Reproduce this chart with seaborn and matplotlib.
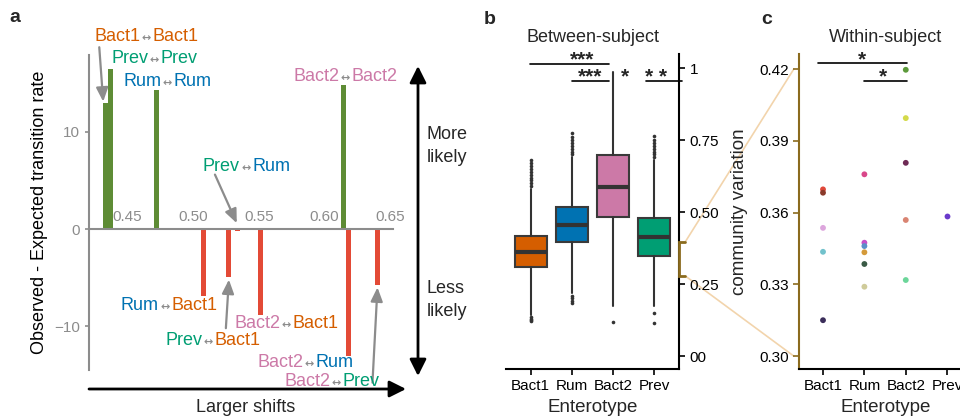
import matplotlib
matplotlib.use("Agg")
import matplotlib.pyplot as plt
import matplotlib.transforms as mtransforms
from matplotlib.offsetbox import TextArea, HPacker, AnnotationBbox
from matplotlib.patches import ConnectionPatch, FancyArrowPatch
import numpy as np
import pandas as pd
import seaborn as sns

# ---------------- data ----------------
# panel a: observed - expected transition rate vs. size of shift
pair_from = ["Bact1", "Prev", "Rum", "Rum", "Prev", "Prev", "Bact2", "Bact2", "Bact2", "Bact2"]
pair_to = ["Bact1", "Prev", "Rum", "Bact1", "Bact1", "Rum", "Bact1", "Bact2", "Rum", "Prev"]
shift = [0.4337, 0.4375, 0.4720, 0.5080, 0.5270, 0.5340, 0.5515, 0.6142, 0.6180, 0.6405]
obs_minus_exp = [13.0, 16.5, 14.3, -6.9, -4.9, -0.2, -8.8, 14.8, -13.1, -5.8]
a_yticks = [-10, 0, 10]
a_xticks = [0.45, 0.50, 0.55, 0.60, 0.65]

# panel b: between-subject community variation (box summaries)
enterotypes = ["Bact1", "Rum", "Bact2", "Prev"]
box_q1 = [0.308, 0.395, 0.484, 0.347]
box_med = [0.360, 0.455, 0.588, 0.412]
box_q3 = [0.417, 0.516, 0.698, 0.480]
box_whislo = [0.142, 0.218, 0.174, 0.175]
box_whishi = [0.580, 0.690, 0.987, 0.680]
box_fliers = [
    [0.59, 0.60, 0.61, 0.62, 0.63, 0.64, 0.65, 0.66, 0.67, 0.68, 0.135, 0.13, 0.125, 0.12],
    [0.70, 0.71, 0.72, 0.73, 0.74, 0.75, 0.76, 0.775, 0.21, 0.20, 0.19, 0.184],
    [0.119],
    [0.69, 0.70, 0.71, 0.72, 0.73, 0.74, 0.75, 0.764, 0.149, 0.115],
]
b_yticks = [0, 0.25, 0.5, 0.75, 1]
b_yticklabels = ["00", "0.25", "0.50", "0.75", "1"]

# panel c: within-subject community variation
within_group = ["Bact1"] * 5 + ["Rum"] * 6 + ["Bact2"] * 5 + ["Prev"]
within_value = [0.3697, 0.3683, 0.3536, 0.3436, 0.3150,
                0.3760, 0.3474, 0.3460, 0.3434, 0.3385, 0.3290,
                0.4197, 0.3995, 0.3808, 0.3569, 0.3318,
                0.3585]
within_color = ["#E0483A", "#8B3A2A", "#DDA6DD", "#72C2CC", "#3B2D5A",
                "#D9478A", "#C650C8", "#5B8FC8", "#D49A3A", "#3A5A45", "#CFCB9A",
                "#5C9A3A", "#D4DA4A", "#6E2A55", "#D98472", "#6CD69A",
                "#6A3ACB"]
c_yticks = [0.30, 0.33, 0.36, 0.39, 0.42]

# ---------------- style ----------------
ent_color = {"Bact1": "#D55E00", "Rum": "#0072B2", "Bact2": "#CC79A7", "Prev": "#009E73"}
green = "#5E8C35"
red = "#E34A36"
grey = "#8C8C8C"
brown = "#8B6B1E"
tan = "#F2D4AC"

sns.set_theme(style="ticks")
plt.rcParams["font.family"] = ["Liberation Sans", "DejaVu Sans"]
plt.rcParams["axes.unicode_minus"] = True

fig = plt.figure(figsize=(9.6, 4.2), dpi=100)
W, H = 960, 420


def px_axes(left, top, right, bottom):
    return [left / W, 1 - bottom / H, (right - left) / W, (bottom - top) / H]


def fpx(x, y):
    return (x / W, 1 - y / H)


axa = fig.add_axes(px_axes(89, 55, 393, 370))
axb = fig.add_axes(px_axes(506, 54, 679, 369))
axc = fig.add_axes(px_axes(799, 54, 972, 369))

# ---------------- panel a ----------------
df_a = pd.DataFrame({"shift": shift, "diff": obs_minus_exp})
df_a["sign"] = np.where(df_a["diff"] > 0, "more", "less")
sns.barplot(data=df_a, x="shift", y="diff", hue="sign",
            palette={"more": green, "less": red}, native_scale=True,
            width=1.0, dodge=False, errorbar=None, legend=False,
            saturation=1, linewidth=0, ax=axa)
axa.set_xlim(0.421, 0.652)
axa.set_ylim(-14.5, 17.9)
for s in ["top", "right"]:
    axa.spines[s].set_visible(False)
axa.spines["bottom"].set_position(("data", 0))
for s in ["left", "bottom"]:
    axa.spines[s].set_color(grey)
    axa.spines[s].set_linewidth(1.5)
axa.set_xticks(a_xticks)
axa.set_xticklabels([f"{t:.2f}" for t in a_xticks])
axa.set_yticks(a_yticks)
axa.tick_params(axis="x", length=0, pad=-14, labelsize=11, colors=grey)
axa.tick_params(axis="y", length=3, width=1.2, labelsize=11, colors=grey)
axa.set_xlabel("")
axa.set_ylabel("Observed - Expected transition rate", fontsize=13, color="black")
axa.yaxis.set_label_coords(-0.135, 0.5)

# pair labels (x, y in data coords of panel a)
label_pos = [(0.4644, 19.8), (0.4705, 17.5), (0.4807, 15.2), (0.4818, -7.9),
             (0.5152, -11.5), (0.5407, 6.4), (0.5710, -9.7), (0.6159, 15.7),
             (0.5852, -13.7), (0.6057, -15.7)]
for a, b, (lx, ly) in zip(pair_from, pair_to, label_pos):
    parts = [TextArea(a, textprops=dict(color=ent_color[a], fontsize=13)),
             TextArea("\u2194", textprops=dict(color=grey, fontsize=8, family="DejaVu Sans",
                                                fontweight="bold")),
             TextArea(b, textprops=dict(color=ent_color[b], fontsize=13))]
    pack = HPacker(children=parts, align="baseline", pad=0, sep=1)
    ab = AnnotationBbox(pack, (lx, ly), xycoords="data", frameon=False,
                        box_alignment=(0.5, 0.5), annotation_clip=False, pad=0)
    ab.set_zorder(5)
    axa.add_artist(ab)

arrow_kw = dict(arrowstyle="-|>,head_length=0.7,head_width=0.3", color=grey,
                lw=1.6, shrinkA=0, shrinkB=0)
for src, tip in [((0.4288, 18.7), (0.4318, 13.1)),
                 ((0.5167, 5.6), (0.5333, 0.6)),
                 ((0.5250, -10.2), (0.5273, -5.2)),
                 ((0.6364, -15.8), (0.6402, -6.0))]:
    axa.annotate("", xy=tip, xytext=src, arrowprops=arrow_kw, annotation_clip=False)

# direction arrows and notes
fig.add_artist(FancyArrowPatch(fpx(89, 389), fpx(406, 389), transform=fig.transFigure,
                               arrowstyle="-|>,head_length=10,head_width=5",
                               color="black", lw=2, shrinkA=0, shrinkB=0))
fig.add_artist(FancyArrowPatch(fpx(418, 376), fpx(418, 66), transform=fig.transFigure,
                               arrowstyle="<|-|>,head_length=10,head_width=5",
                               color="black", lw=2, shrinkA=0, shrinkB=0))
fig.text(*fpx(246, 408), "Larger shifts", ha="center", va="center", fontsize=13)
fig.text(*fpx(427, 146), "More\nlikely", ha="left", va="center", fontsize=13, linespacing=1.45)
fig.text(*fpx(427, 300), "Less\nlikely", ha="left", va="center", fontsize=13, linespacing=1.45)

# ---------------- panel b ----------------
stats = []
for i, name in enumerate(enterotypes):
    stats.append(dict(label=name, q1=box_q1[i], med=box_med[i], q3=box_q3[i],
                      whislo=box_whislo[i], whishi=box_whishi[i], fliers=box_fliers[i]))
bp = axb.bxp(stats, positions=range(len(enterotypes)), widths=0.77, patch_artist=True,
             showcaps=False,
             boxprops=dict(edgecolor="#3a3a3a", linewidth=1.5),
             medianprops=dict(color="#333333", linewidth=3),
             whiskerprops=dict(color="#333333", linewidth=1.5),
             flierprops=dict(marker="o", markersize=2.6, markerfacecolor="#333333",
                             markeredgecolor="none"))
for patch, name in zip(bp["boxes"], enterotypes):
    patch.set_facecolor(ent_color[name])
axb.set_xlim(-0.6, 3.6)
axb.set_ylim(-0.045, 1.049)
axb.set_xticks(range(len(enterotypes)))
axb.set_xticklabels(enterotypes)
axb.yaxis.tick_right()
axb.set_yticks(b_yticks)
axb.set_yticklabels(b_yticklabels)
for s in ["top", "left"]:
    axb.spines[s].set_visible(False)
for s in ["right", "bottom"]:
    axb.spines[s].set_color("black")
    axb.spines[s].set_linewidth(1.5)
axb.tick_params(axis="both", length=4, width=1.2, color="black", labelsize=11, labelcolor="black")
axb.set_xlabel("Enterotype", fontsize=13.5)
axb.set_title("Between-subject", fontsize=13, pad=9)

star_kw = dict(ha="center", va="bottom", fontsize=15, fontweight="bold")
b_px = 1 / 288  # one pixel in panel b data units
for x0, x1, yl in [(-0.02, 1.89, 1.016), (1.0, 1.89, 0.956), (2.81, 3.67, 0.956)]:
    axb.plot([x0, x1], [yl, yl], color="black", lw=1.2, clip_on=False)
for txt, xt, yl in [("***", 1.24, 1.016), ("***", 1.44, 0.956), ("*", 2.29, 0.956), ("* *", 3.05, 0.956)]:
    axb.text(xt, yl - 6 * b_px, txt, **star_kw)

# zoom bracket on right spine
brk = mtransforms.blended_transform_factory(axb.transAxes, axb.transData)
axb.plot([1.035, 1.0, 1.0, 1.035], [0.397, 0.397, 0.278, 0.278], color=brown,
         lw=2, transform=brk, clip_on=False, zorder=6, solid_joinstyle="miter")

# ---------------- panel c ----------------
sns.stripplot(x=within_group, y=within_value, hue=[str(i) for i in range(len(within_value))],
              palette=within_color, order=enterotypes, jitter=False, size=4.2,
              linewidth=0, legend=False, ax=axc)
axc.set_xlim(-0.58, 3.6)
axc.set_ylim(0.2946, 0.4263)
axc.set_yticks(c_yticks)
axc.set_yticklabels([f"{t:.2f}" for t in c_yticks])
for s in ["top", "right"]:
    axc.spines[s].set_visible(False)
axc.spines["left"].set_color(brown)
axc.spines["left"].set_linewidth(1.5)
axc.spines["bottom"].set_color("black")
axc.spines["bottom"].set_linewidth(1.5)
axc.tick_params(axis="y", length=4, width=1.2, color=brown, labelsize=11, labelcolor="black")
axc.tick_params(axis="x", length=4, width=1.2, color="black", labelsize=11, labelcolor="black")
axc.set_xlabel("Enterotype", fontsize=13.5)
axc.set_ylabel("community variation", fontsize=13.5)
axc.yaxis.set_label_coords(-0.295, 0.5)
axc.set_title("Within-subject", fontsize=13, pad=9)

c_px = 1 / 2392  # one pixel in panel c data units
for x0, x1, yl in [(-0.11, 2.03, 0.4224), (0.98, 2.03, 0.4151)]:
    axc.plot([x0, x1], [yl, yl], color="black", lw=1.2, clip_on=False)
for xt, yl in [(0.95, 0.4224), (1.46, 0.4151)]:
    axc.text(xt, yl - 6 * c_px, "*", **star_kw)

# connecting lines between panels b and c
cy = axc.get_yaxis_transform()
for yb, yc in [(0.397, 0.42), (0.278, 0.30)]:
    con = ConnectionPatch(xyA=(3.754, yb), coordsA=axb.transData,
                          xyB=(-0.03, yc), coordsB=cy, color=tan, lw=1.2, zorder=0)
    fig.add_artist(con)

# panel letters
for letter, (x, y) in zip("abc", [(15, 17), (490, 19), (767, 19)]):
    fig.text(*fpx(x, y), letter, ha="center", va="center", fontsize=14, fontweight="bold")

fig.savefig("out.png", dpi=100)
